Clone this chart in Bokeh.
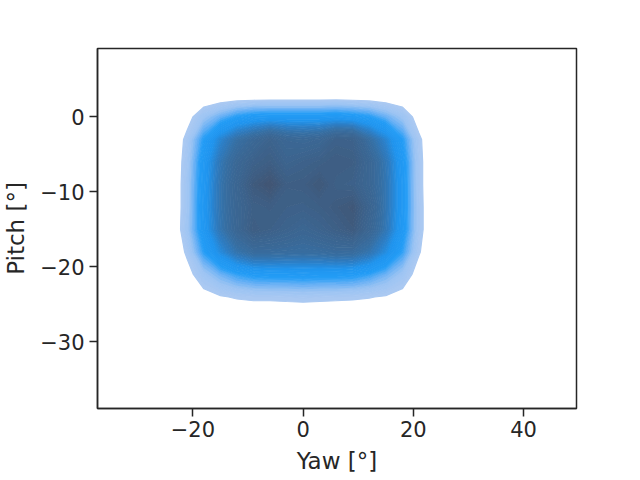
import numpy as np
from bokeh.plotting import figure
from bokeh.models import Range1d, FixedTicker
from bokeh.embed import file_html
from bokeh.resources import INLINE

# Grid of the estimated density, rows top (pitch 6) to bottom (pitch -27)
yaw_grid = [-24, -21, -18, -15, -12, -9, -6, -3, 0, 3, 6, 9, 12, 15, 18, 21, 24]
pitch_grid = [6, 3, 0, -3, -6, -9, -12, -15, -18, -21, -24, -27]
density = [
    [0, 0, 0, 0, 0, 0, 0, 0, 0, 0, 0, 0, 0, 0, 0, 0, 0],
    [0, 0, 0, 0, 0, 0, 0, 0, 0, 0, 0, 0, 0, 0, 0, 0, 0],
    [0, 0.6, 1.8, 2.7, 3.5, 3.9, 4.0, 4.0, 4.0, 4.0, 4.1, 3.9, 3.5, 2.7, 1.8, 0.5, 0],
    [0, 1.3, 3.5, 5.5, 7.0, 8.0, 9.0, 8.2, 8.0, 8.3, 9.3, 9.2, 7.2, 5.5, 3.5, 1.2, 0],
    [0, 1.5, 4.1, 6.4, 8.1, 9.3, 9.8, 8.9, 9.3, 9.6, 10.0, 9.8, 8.3, 6.4, 4.0, 1.3, 0],
    [0, 1.6, 4.2, 6.6, 8.5, 10.3, 11.0, 9.8, 9.9, 10.5, 9.6, 9.4, 8.3, 6.5, 4.1, 1.3, 0],
    [0, 1.6, 4.3, 6.6, 8.4, 9.6, 9.8, 9.5, 9.4, 9.7, 10.2, 10.6, 8.8, 6.5, 4.1, 1.35, 0],
    [0, 1.7, 4.2, 6.5, 8.3, 9.9, 9.5, 9.0, 8.5, 9.0, 9.6, 10.2, 8.4, 6.4, 4.0, 1.35, 0],
    [0, 1.2, 3.4, 5.2, 6.7, 7.5, 7.5, 7.4, 7.3, 7.4, 7.6, 7.5, 6.6, 5.1, 3.3, 1.1, 0],
    [0, 0.6, 1.7, 2.6, 3.3, 3.7, 3.8, 3.8, 3.9, 3.8, 3.8, 3.7, 3.3, 2.6, 1.7, 0.5, 0],
    [0, 0.2, 0.6, 0.9, 1.1, 1.2, 1.2, 1.25, 1.3, 1.25, 1.2, 1.15, 1.05, 0.9, 0.6, 0.2, 0],
    [0, 0, 0, 0, 0, 0, 0, 0, 0, 0, 0, 0, 0, 0, 0, 0, 0],
]

x_ticks = [-20, 0, 20, 40]
x_tick_labels = ["\u221220", "0", "20", "40"]
y_ticks = [0, -10, -20, -30]
y_tick_labels = ["0", "\u221210", "\u221220", "\u221230"]

# colour stops (density level -> rgb) for the filled levels
stop_levels = [1.0, 2.0, 2.8, 3.5, 4.8, 6.0, 7.0, 8.0, 9.0, 10.0, 11.0, 11.5]
stop_rgb = [(172, 202, 242), (155, 195, 243), (100, 175, 245), (35, 157, 246),
            (32, 148, 238), (45, 125, 195), (54, 112, 165), (58, 104, 150),
            (60, 100, 142), (62, 93, 130), (65, 85, 115), (66, 80, 108)]

levels = list(np.linspace(1.0, 11.5, 43))
mids = [(a + b) / 2 for a, b in zip(levels[:-1], levels[1:])]
sl = np.array(stop_levels)
sr = np.array(stop_rgb, dtype=float)
colors = []
for m in mids:
    r = np.interp(m, sl, sr[:, 0]); g = np.interp(m, sl, sr[:, 1]); b = np.interp(m, sl, sr[:, 2])
    colors.append("#%02x%02x%02x" % (int(round(r)), int(round(g)), int(round(b))))
line_colors = colors + [colors[-1]]

x = np.array(yaw_grid, dtype=float)
y = np.array(pitch_grid[::-1], dtype=float)
z = np.array(density[::-1], dtype=float)

p = figure(width=640, height=480,
           x_range=Range1d(-37.3, 49.6), y_range=Range1d(-38.87, 9.13),
           output_backend="svg", toolbar_location=None,
           min_border_left=96, min_border_right=64, min_border_top=48, min_border_bottom=72)
p.background_fill_color = "white"
p.border_fill_color = "white"
p.xgrid.visible = False
p.ygrid.visible = False
p.outline_line_color = "#262626"
p.outline_line_width = 1.5
p.outline_line_alpha = 1.0

p.contour(x, y, z, levels, fill_color=colors, line_color=line_colors, line_width=1.2)

for ax, ticks, labels, name in ((p.xaxis[0], x_ticks, x_tick_labels, "Yaw [°]"),
                                (p.yaxis[0], y_ticks, y_tick_labels, "Pitch [°]")):
    ax.ticker = FixedTicker(ticks=ticks)
    ax.major_label_overrides = {t: l for t, l in zip(ticks, labels)}
    ax.axis_label = name
    ax.axis_label_text_font = "DejaVu Sans"
    ax.axis_label_text_font_size = "23px"
    ax.axis_label_text_font_style = "normal"
    ax.axis_label_text_color = "#262626"
    ax.major_label_text_font = "DejaVu Sans"
    ax.major_label_text_font_size = "21px"
    ax.major_label_text_color = "#262626"
    ax.axis_line_color = "#262626"
    ax.axis_line_width = 1.5
    ax.major_tick_line_color = "#262626"
    ax.major_tick_line_width = 1.5
    ax.major_tick_out = 8
    ax.major_tick_in = 0
    ax.minor_tick_line_color = None

p.yaxis[0].major_label_standoff = 5
p.yaxis[0].axis_label_standoff = 8
p.xaxis[0].major_label_standoff = 4
p.xaxis[0].axis_label_standoff = 8

open("out.html", "w").write(file_html(p, INLINE))
